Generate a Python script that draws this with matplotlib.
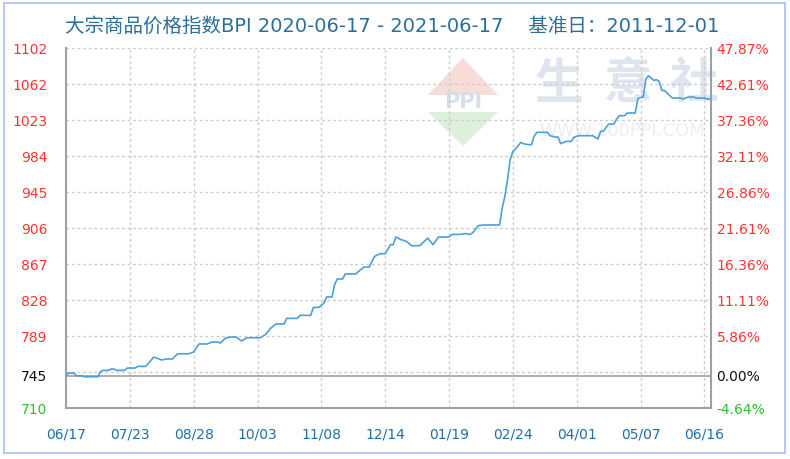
import matplotlib
matplotlib.use("Agg")
import matplotlib.pyplot as plt
from matplotlib.patches import Rectangle, Polygon

plt.rcParams['font.family'] = ['DejaVu Sans']

# ---- data ----
days = [0, 1, 3, 4, 6, 7, 12, 13, 14, 16, 17, 18, 19, 22, 23, 26, 27, 30, 32, 33,
        34, 36, 38, 40, 42, 46, 48, 50, 53, 55, 57, 58, 60, 62, 64, 66, 68, 73, 75, 77,
        79, 82, 83, 87, 88, 92, 93, 95, 97, 98, 100, 101, 102, 104, 105, 109, 110, 112, 114, 116,
        118, 120, 122, 123, 124, 126, 128, 130, 133, 136, 138, 140, 144, 145, 148, 150, 152, 153, 155, 157,
        163, 164, 165, 166, 167, 168, 169, 171, 172, 174, 175, 176, 177, 181, 182, 184, 185, 186, 188, 190,
        191, 193, 198, 200, 201, 202, 204, 206, 207, 208, 210, 211, 214, 215, 216, 217, 218, 219, 220, 221,
        222, 223, 224, 225, 226, 228, 231, 232, 234, 236, 237, 240, 241, 242]
bpi = [745.6, 748.0, 748.0, 745.0, 745.0, 744.0, 744.0, 749.8, 751.0, 751.0, 752.5, 752.5, 751.0, 751.0, 753.5, 753.5, 755.3, 755.3, 762.0, 765.5,
       764.4, 762.3, 763.4, 763.4, 769.0, 769.0, 771.0, 779.7, 779.7, 781.9, 781.9, 780.7, 786.2, 787.3, 787.3, 783.0, 786.5, 786.5, 790.0, 797.0,
       801.5, 801.5, 807.6, 807.6, 810.9, 810.9, 819.5, 819.5, 824.3, 830.9, 830.9, 844.3, 850.5, 850.5, 855.9, 855.9, 858.7, 863.5, 863.5, 875.0,
       878.0, 878.0, 887.8, 887.8, 896.2, 893.3, 891.4, 886.7, 886.7, 895.0, 887.8, 896.2, 896.2, 899.0, 899.0, 900.0, 899.0, 901.2, 908.5, 909.3,
       909.3, 927.8, 940.4, 958.6, 980.4, 989.4, 992.0, 999.2, 997.8, 996.7, 996.7, 1005.8, 1010.2, 1010.2, 1006.5, 1005.0, 1005.0, 997.8, 1000.3, 1000.3,
       1005.0, 1006.5, 1006.5, 1003.0, 1011.3, 1011.3, 1019.2, 1019.2, 1024.7, 1028.3, 1028.3, 1031.2, 1031.2, 1046.5, 1048.2, 1048.2, 1068.2, 1071.8, 1069.3, 1066.7,
       1067.5, 1065.6, 1055.7, 1055.7, 1052.9, 1047.5, 1047.5, 1046.5, 1048.6, 1048.6, 1047.5, 1047.5, 1046.5, 1046.5]

x_tick_days = [0, 24, 48, 72, 96, 120, 144, 168, 192, 216, 240]
x_tick_labels = ["06/17", "07/23", "08/28", "10/03", "11/08", "12/14",
                 "01/19", "02/24", "04/01", "05/07", "06/16"]

y_min, y_max, base = 710, 1102, 745
y_grid = [749.2, 788.4, 827.6, 866.8, 906.0, 945.2, 984.4, 1023.6, 1062.8, 1102.0]
y_tick_pos = [710, 745, 788.4, 827.6, 866.8, 906.0, 945.2, 984.4, 1023.6, 1062.8, 1102.0]
y_tick_labels = ["710", "745", "789", "828", "867", "906", "945", "984", "1023", "1062", "1102"]
pct_labels = ["-4.64%", "0.00%", "5.86%", "11.11%", "16.36%", "21.61%", "26.86%",
              "32.11%", "37.36%", "42.61%", "47.87%"]

title_text = "大宗商品价格指数BPI 2020-06-17 - 2021-06-17    基准日：2011-12-01"

# ---- figure ----
W, H = 790, 459
fig = plt.figure(figsize=(W / 100, H / 100), dpi=100)

def fx(px):
    return px / W

def fy(py):
    return 1 - py / H

# outer border
fig.patches.append(Rectangle((fx(4), fy(453)), fx(785) - fx(4), fy(3) - fy(453),
                             transform=fig.transFigure, fill=False,
                             edgecolor="#a9bff0", linewidth=1.2))

ax = fig.add_axes([fx(66), fy(408), fx(711) - fx(66), fy(48) - fy(408)])
ax.set_xlim(0, 242.5)
ax.set_ylim(y_min, y_max)

grid_kw = dict(color="#cccccc", linewidth=1.0, linestyle=(0, (2, 2)), zorder=1)
for g in y_grid:
    ax.axhline(g, **grid_kw)
for d in x_tick_days[1:]:
    ax.axvline(d, **grid_kw)
ax.axhline(base, color="#a8a8a8", linewidth=1.3, zorder=1.2)

# watermark
wm_color = "#dfe5ef"
for ch, px in zip("生意社", [559, 627, 694]):
    ax.text(fx(px), fy(84), ch, transform=fig.transFigure, fontsize=35,
            family=["Noto Sans CJK SC"], fontweight="bold", color=wm_color,
            ha="center", va="center", zorder=0.8)
ax.text(fx(622), fy(131), "WWW.100PPI.COM", transform=fig.transFigure, fontsize=13,
        color="#eeeeee", ha="center", va="center", zorder=0.8)
ax.add_patch(Polygon([(fx(428), fy(95)), (fx(463), fy(58)), (fx(498), fy(95))],
                     closed=True, transform=fig.transFigure, facecolor="#f8dcd8",
                     edgecolor="none", zorder=0.7))
ax.add_patch(Polygon([(fx(428), fy(112)), (fx(463), fy(146)), (fx(498), fy(112))],
                     closed=True, transform=fig.transFigure, facecolor="#dcf0dc",
                     edgecolor="none", zorder=0.7))
ax.text(fx(463), fy(102), "PPI", transform=fig.transFigure, fontsize=15,
        fontweight="bold", color="#d6deec", ha="center", va="center", zorder=0.8)

ax.plot(days, bpi, color="#4aa0dc", linewidth=1.2, zorder=3)

for side in ["left", "bottom", "right"]:
    ax.spines[side].set_color("#a0a0a0")
    ax.spines[side].set_linewidth(1.5)
ax.spines["top"].set_visible(False)

ax.set_xticks(x_tick_days)
ax.set_xticklabels(x_tick_labels)
ax.tick_params(axis="x", length=0, pad=14, labelsize=10, labelcolor="#1f6fa8")

ax.set_yticks(y_tick_pos)
ax.set_yticklabels(y_tick_labels)
ax.tick_params(axis="y", length=0, pad=13.5, labelsize=10)

def colour_for(i):
    if i == 0:
        return "#33bb33"
    if i == 1:
        return "#111111"
    return "#ff3333"

for i, lab in enumerate(ax.get_yticklabels()):
    lab.set_color(colour_for(i))

ax2 = ax.twinx()
ax2.set_ylim(y_min, y_max)
ax2.set_yticks(y_tick_pos)
ax2.set_yticklabels(pct_labels)
ax2.tick_params(axis="y", length=0, pad=4, labelsize=10)
for i, lab in enumerate(ax2.get_yticklabels()):
    lab.set_color(colour_for(i))
for s in ax2.spines.values():
    s.set_visible(False)

fig.text(fx(65), fy(26), title_text, family=["DejaVu Sans", "Noto Sans CJK SC"],
         fontsize=14, color="#2a6f9c", ha="left", va="center")

fig.savefig("out.png", dpi=100)
